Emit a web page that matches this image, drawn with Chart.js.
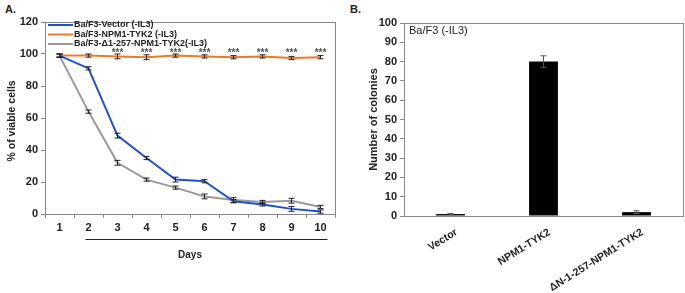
<!DOCTYPE html>
<html>
<head>
<meta charset="utf-8">
<script src="https://cdn.jsdelivr.net/npm/chart.js@4"></script>
<style>
  body { margin: 0; background: #fff; }
  #wrap { position: relative; width: 685px; height: 293px; font-family: "Liberation Sans", Arial, sans-serif; }
  .panel { position: absolute; top: 0; height: 293px; }
  .lbl { position: absolute; font-weight: bold; font-size: 11px; color: #222; }
</style>
</head>
<body>
<div id="wrap">
  <div class="lbl" style="left:5px; top:3px;">A.</div>
  <div class="lbl" style="left:350px; top:3px;">B.</div>
  <div class="panel" style="left:0; width:345px;"><canvas id="chartA" width="345" height="293"></canvas></div>
  <div class="panel" style="left:345px; width:340px;"><canvas id="chartB" width="340" height="293"></canvas></div>
</div>
<script>
// --- panel A: viability ---
const days = ['1', '2', '3', '4', '5', '6', '7', '8', '9', '10'];
const vectorVals = [99, 91, 49, 35, 21.5, 20.5, 8, 6, 3.2, 1.5];
const vectorErr  = [1, 1, 1.5, 1, 1.5, 1, 1, 1, 1.5, 1];
const tyk2Vals   = [99, 99, 98.5, 98, 99, 98.5, 98, 98.5, 97.5, 98];
const tyk2Err    = [1, 1, 1.5, 1.5, 1, 1, 1, 1, 1, 1];
const deltaVals  = [99, 64, 32, 21.5, 16.5, 11, 8.7, 7.5, 8.3, 4.4];
const deltaErr   = [1, 1, 1.5, 1, 1, 1.5, 1.5, 1, 1.5, 1];
const starDays   = ['3', '4', '5', '6', '7', '8', '9', '10'];
const seriesNames = ['Ba/F3-Vector (-IL3)', 'Ba/F3-NPM1-TYK2 (-IL3)', 'Ba/F3-\u03941-257-NPM1-TYK2(-IL3)'];

// --- panel B: colonies ---
const constructs = ['Vector', 'NPM1-TYK2', '\u0394N-1-257-NPM1-TYK2'];
const colonies   = [1, 80, 2];
const coloniesErr = [0.3, 3, 0.7];

const FONT = '"Liberation Sans", Arial, sans-serif';
const tickFont = { family: FONT, size: 11, weight: 'bold' };

// error bars for every dataset that carries an err array
const errorBars = {
  id: 'errorBars',
  afterDatasetsDraw(chart) {
    const ctx = chart.ctx;
    const y = chart.scales.y;
    chart.data.datasets.forEach((ds, i) => {
      const meta = chart.getDatasetMeta(i);
      ctx.save();
      ctx.strokeStyle = ds.errColor || '#222';
      ctx.lineWidth = 1;
      meta.data.forEach((el, j) => {
        const v = ds.data[j], e = ds.err[j];
        const yt = y.getPixelForValue(v + e), yb = y.getPixelForValue(v - e);
        const x = el.x;
        ctx.beginPath();
        ctx.moveTo(x, yt); ctx.lineTo(x, yb);
        ctx.moveTo(x - 3, yt); ctx.lineTo(x + 3, yt);
        ctx.moveTo(x - 3, yb); ctx.lineTo(x + 3, yb);
        ctx.stroke();
      });
      ctx.restore();
    });
  }
};

const frame = {
  id: 'frame',
  beforeDatasetsDraw(chart) {
    const { ctx, chartArea: a } = chart;
    ctx.save();
    ctx.strokeStyle = '#888';
    ctx.lineWidth = 1;
    ctx.strokeRect(a.left + 0.5, a.top + 0.5, a.right - a.left, a.bottom - a.top);
    ctx.restore();
  }
};

const extrasA = {
  id: 'extrasA',
  afterDraw(chart) {
    const { ctx } = chart;
    const x = chart.scales.x, y = chart.scales.y;
    ctx.save();
    // legend inside the plot
    chart.data.datasets.forEach((ds, i) => {
      const ly = 25 + i * 9.5;
      ctx.strokeStyle = ds.borderColor;
      ctx.lineWidth = 2;
      ctx.beginPath(); ctx.moveTo(48, ly); ctx.lineTo(73, ly); ctx.stroke();
      ctx.fillStyle = '#222';
      ctx.font = 'bold 9px ' + FONT;
      ctx.textBaseline = 'middle';
      ctx.fillText(ds.label, 74, ly);
    });
    // significance marks
    ctx.fillStyle = '#555';
    ctx.font = 'bold 10px ' + FONT;
    ctx.textAlign = 'center';
    ctx.textBaseline = 'middle';
    starDays.forEach(d => {
      ctx.fillText('***', x.getPixelForValue(days.indexOf(d)), 53);
    });
    // line under days 2-10
    ctx.strokeStyle = '#222';
    ctx.lineWidth = 1;
    const yl = 239.5;
    ctx.beginPath();
    ctx.moveTo(x.getPixelForValue(1) - 3, yl);
    ctx.lineTo(x.getPixelForValue(9) + 7, yl);
    ctx.stroke();
    ctx.restore();
  }
};

new Chart(document.getElementById('chartA'), {
  type: 'line',
  data: {
    labels: days,
    datasets: [
      { label: seriesNames[0], data: vectorVals, err: vectorErr, borderColor: '#1f4fd6', borderWidth: 2, pointRadius: 0 },
      { label: seriesNames[1], data: tyk2Vals, err: tyk2Err, borderColor: '#f07a22', borderWidth: 2, pointRadius: 0 },
      { label: seriesNames[2], data: deltaVals, err: deltaErr, borderColor: '#9a9a9a', borderWidth: 2, pointRadius: 0 }
    ]
  },
  options: {
    responsive: false,
    animation: false,
    layout: { padding: { left: 0, right: 10, top: 22, bottom: 0 } },
    plugins: { legend: { display: false }, tooltip: { enabled: false } },
    scales: {
      x: {
        offset: true,
        grid: { offset: true, drawOnChartArea: false, tickLength: 4, color: '#888' },
        border: { color: '#888' },
        ticks: { font: tickFont, color: '#222', maxRotation: 0, padding: 3 },
        title: { display: true, text: 'Days', font: { family: FONT, size: 10, weight: 'bold' }, color: '#222', padding: { bottom: 32 } },
        afterFit(s) { s.height = 79; }
      },
      y: {
        min: 0, max: 120,
        ticks: { stepSize: 20, font: tickFont, color: '#222', padding: 3 },
        grid: { drawOnChartArea: false, tickLength: 4, color: '#888' },
        border: { color: '#888' },
        title: { display: true, text: '% of viable cells  ', font: { family: FONT, size: 10.5, weight: 'bold' }, color: '#222', padding: { top: 6 } },
        afterFit(s) { s.width = 45; }
      }
    }
  },
  plugins: [frame, errorBars, extrasA]
});

const extrasB = {
  id: 'extrasB',
  afterDraw(chart) {
    const { ctx, chartArea: a } = chart;
    ctx.save();
    ctx.fillStyle = '#222';
    ctx.font = '11px ' + FONT;
    ctx.textBaseline = 'middle';
    ctx.fillText('Ba/F3 (-IL3)', a.left + 5, a.top + 8);
    ctx.restore();
  }
};

new Chart(document.getElementById('chartB'), {
  type: 'bar',
  data: {
    labels: constructs,
    datasets: [
      { data: colonies, err: coloniesErr, backgroundColor: '#000', borderColor: '#555', borderWidth: 0, errColor: '#555',
        categoryPercentage: 1, barPercentage: 0.31 }
    ]
  },
  options: {
    responsive: false,
    animation: false,
    layout: { padding: { left: 0, right: 2, top: 23, bottom: 0 } },
    plugins: { legend: { display: false }, tooltip: { enabled: false } },
    scales: {
      x: {
        grid: { display: false },
        border: { color: '#888' },
        ticks: { font: { family: FONT, size: 10.5, weight: 'bold' }, color: '#222', minRotation: 32, maxRotation: 32, padding: 2, labelOffset: 6 },
        afterFit(s) { s.height = 77; }
      },
      y: {
        min: 0, max: 100,
        ticks: { stepSize: 10, font: tickFont, color: '#222', padding: 3 },
        grid: { drawOnChartArea: false, tickLength: 4, color: '#888' },
        border: { color: '#888' },
        title: { display: true, text: 'Number of colonies', font: { family: FONT, size: 11, weight: 'bold' }, color: '#222', padding: { top: 22 } },
        afterFit(s) { s.width = 59; }
      }
    }
  },
  plugins: [frame, errorBars, extrasB]
});
</script>
</body>
</html>
